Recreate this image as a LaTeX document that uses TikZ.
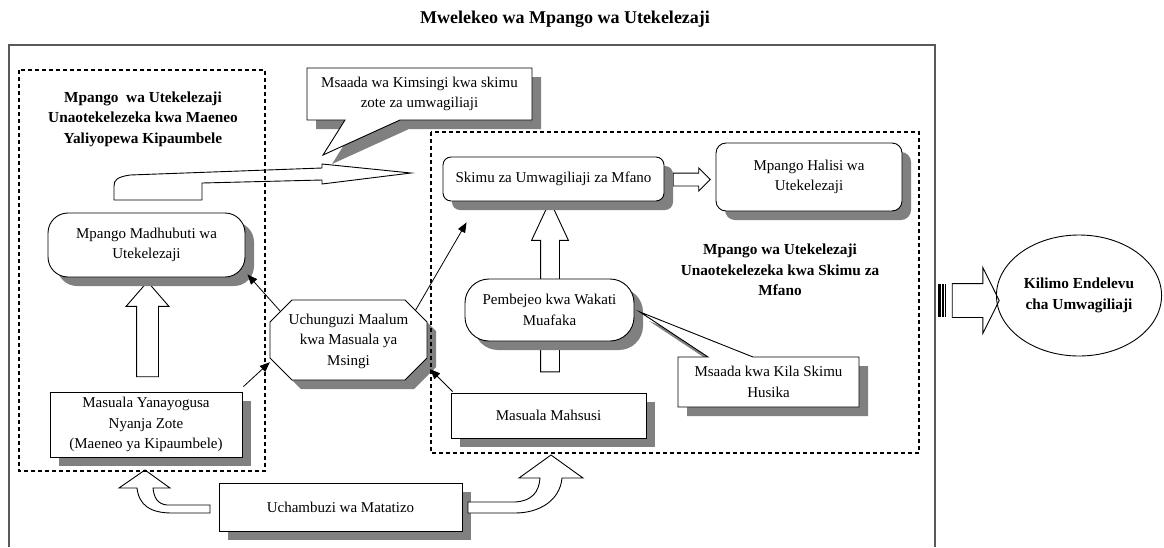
\documentclass[tikz,border=0pt]{standalone}
\usepackage{fontspec}
\setmainfont{Liberation Serif}
\usetikzlibrary{shapes,arrows,arrows.meta,shadows,calc}

\begin{document}
\begin{tikzpicture}[x=1pt,y=-1pt]
		\useasboundingbox (0,0) rectangle (1164,547);
		\begin{scope}
			[
				dropgray/.style={drop shadow={shadow xshift=9pt, shadow yshift=-9pt, fill=black!50, opacity=1}},
				styleText/.style={align=center, font=\fontsize{15}{20.5}\selectfont},
				styleBox/.style={
					draw, fill=white, line width=0.9pt, dropgray,
					styleText, inner sep=2pt
					},
				styleRound/.style={styleBox, rounded corners=#1},
				styleShape/.style={draw, fill=white, line width=0.9pt, dropgray},
				styleBold/.style={align=center, font=\fontsize{15.3}{20.5}\selectfont\bfseries},
				styleBlock/.style={draw, fill=white, line width=0.9pt, single arrow, inner xsep=0pt, inner ysep=#1},
				styleZone/.style={draw, dash pattern=on 4pt off 3pt, line width=1.2pt},
			]
			% frame and title
			\draw[black!65, line width=1.3pt] (9,547) -- (9,45) -- (935,45) -- (935,547);
			\node(title)[font=\fontsize{18}{20}\selectfont\bfseries] at (565,19) {Mwelekeo wa Mpango wa Utekelezaji};

			\node(zoneLtxt)[styleBold] at (143,119) {Mpango \ wa Utekelezaji\\Unaotekelezeka kwa Maeneo\\Yaliyopewa Kipaumbele};
			\node(zoneRtxt)[styleBold] at (780,270) {Mpango wa Utekelezaji\\Unaotekelezeka kwa Skimu za\\Mfano};

			% big bent arrow to the model schemes
			\draw[line width=0.9pt, fill=white] (114,200) -- (202,200) -- (202,183) -- (322,180) -- (322,184) -- (411,173)
				-- (322,164) -- (322,168) -- (130,175) .. controls (117,177) and (114,180) .. (114,186) -- cycle;

			% block arrows
			\node(upL)[styleBlock=10.5pt, rotate=90, minimum height=95pt,
				single arrow head extend=10.5pt, single arrow tip angle=82] at (147.5,335.5) {};
			\node(upR)[styleBlock=9pt, rotate=90, minimum height=171pt,
				single arrow head extend=9pt, single arrow tip angle=50] at (550,296.5) {};
			\node(toHal)[styleBlock=6pt, minimum height=37pt,
				single arrow head extend=5pt, single arrow tip angle=90] at (688.5,179.5) {};
			\node(toKil)[styleBlock=16.5pt, minimum height=47pt,
				single arrow head extend=16pt, single arrow tip angle=127] at (971.5,300.5) {};
			\fill (938,284) rectangle (940.5,317);
			\fill (941.7,284) rectangle (943.5,317);
			\draw[line width=0.6pt] (945.5,284) -- (945.5,317);

			% boxes
			\node(madh)[styleRound=20pt, minimum width=197pt, minimum height=64pt] at (146.5,245) {Mpango Madhubuti wa\\Utekelezaji};
			\node(masy)[styleBox, minimum width=192pt, minimum height=65pt] at (146,424.5) {Masuala Yanayogusa\\Nyanja Zote\\(Maeneo ya Kipaumbele)};
			\draw[styleShape] (292,300) -- (405,300) -- (427,322) -- (427,358)
				-- (405,380) -- (292,380) -- (270,358) -- (270,322) -- cycle;
			\node(uchun)[styleText, minimum width=157pt, minimum height=80pt] at (348.5,341) {Uchunguzi Maalum\\kwa Masuala ya\\Msingi};
			\node(skimu)[styleRound=8pt, minimum width=221pt, minimum height=44pt] at (553.5,179) {Skimu za Umwagiliaji za Mfano};
			\node(halisi)[styleRound=10pt, minimum width=186pt, minimum height=68pt] at (809,177) {Mpango Halisi wa\\Utekelezaji};
			\node(pemb)[styleRound=24pt, minimum width=169pt, minimum height=62pt] at (549.5,310) {Pembejeo kwa Wakati\\Muafaka};
			\node(mahsusi)[styleBox, minimum width=195pt, minimum height=45pt] at (548.5,415.5) {Masuala Mahsusi};
			\node(uchamb)[styleBox, minimum width=243pt, minimum height=48pt] at (340.5,507) {Uchambuzi wa Matatizo};

			% callouts
			\draw[styleShape] (307,68) -- (532,68) -- (532,120) -- (400,120) -- (323,155) -- (345,120) -- (307,120) -- cycle;
			\node(msaadaA)[styleText] at (419.5,94) {Msaada wa Kimsingi kwa skimu\\zote za umwagiliaji};
			\draw[styleShape] (678,357) -- (708,357) -- (640,312) -- (753,357) -- (859,357) -- (859,407) -- (678,407) -- cycle;
			\node(msaadaB)[styleText] at (768.5,382) {Msaada kwa Kila Skimu\\Husika};

			\node(kilimo)[ellipse, draw, line width=0.9pt, minimum width=162pt, minimum height=121pt, styleBold] at (1079,295.5) {Kilimo Endelevu\\cha Umwagiliaji};

			% bent arrows from the problem analysis
			\draw[line width=0.9pt, fill=white] (210,505) -- (167,505) .. controls (157,504) and (154,497) .. (153,488)
				-- (170,488) -- (145,470) -- (119,488) -- (137,488) .. controls (139,505) and (150,513) .. (172,513) -- (210,513) -- cycle;
			\draw[line width=0.9pt, fill=white] (468,502) -- (515,502) .. controls (532,501) and (539,492) .. (540,478)
				-- (519,478) -- (551,455) -- (583,478) -- (562,478) .. controls (560,500) and (540,513) .. (515,513) -- (468,513) -- cycle;

			% dashed zones
			\draw[styleZone] (19,70) rectangle (265,471);
			\draw[styleZone] (431,132) rectangle (919,453);
		\end{scope}

		\begin{scope}
			[ link/.style = {-{Triangle[length=10pt,width=8pt]}, line width=0.8pt}]
			\path
			($(uchun.north west)+(11,11)$) edge[link] ($(madh.south east)+(2,-3)$)
			($(masy.north east)+(1,-5)$) edge[link] ($(uchun.south west)+(0,-19)$)
			($(uchun.north east)+(-12,10)$) edge[link] ($(skimu.south west)+(24,21)$)
			($(mahsusi.north west)+(2,-1)$) edge[link] ($(uchun.south east)+(3,-12)$);
		\end{scope}
\end{tikzpicture}
\end{document}
